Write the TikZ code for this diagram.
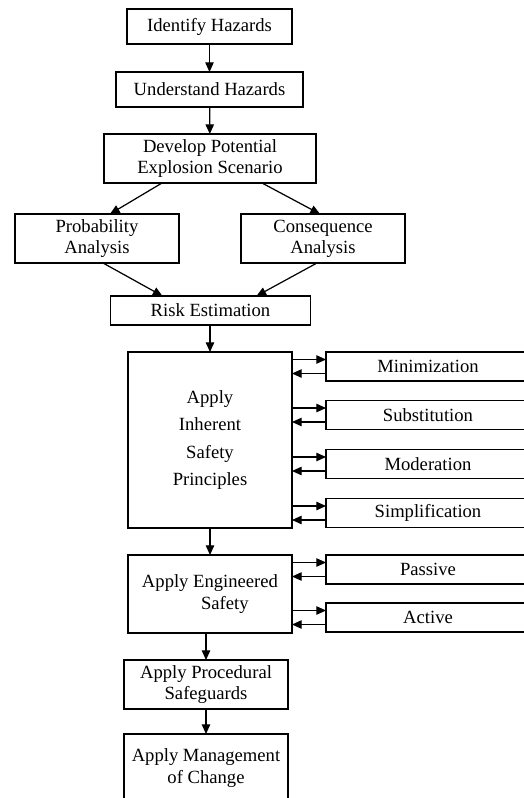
\documentclass[tikz,border=0pt]{standalone}
\usepackage{fontspec}
\setmainfont{Liberation Serif}
\usetikzlibrary{arrows.meta,calc}

\begin{document}
\begin{tikzpicture}[x=0.02cm, y=-0.02cm,
    box/.style={draw, line width=0.7pt, inner sep=0pt, outer sep=0pt, align=center,
                font=\fontsize{10.6}{12}\selectfont},
    sidebox/.style={box, minimum width=4.08cm, minimum height=0.58cm},
    arr/.style={line width=0.7pt, -{Triangle[length=5.5pt,width=4.8pt]}}]
    \useasboundingbox (0,0) rectangle (524,798);

    % Main column
    \node[box, minimum width=3.3cm, minimum height=0.7cm] (ident) at (209.5,26.5) {Identify Hazards};
    \node[box, minimum width=3.74cm, minimum height=0.7cm] (under) at (209.5,89.5) {Understand Hazards};
    \node[box, minimum width=4.24cm, minimum height=0.98cm] (devel) at (210,158.5) {Develop Potential\\Explosion Scenario};

    % Analysis pair
    \node[box, minimum width=3.28cm, minimum height=0.98cm] (prob) at (97,238.5) {Probability\\Analysis};
    \node[box, minimum width=3.28cm, minimum height=0.98cm] (cons) at (323,238.5) {Consequence\\Analysis};

    \node[box, minimum width=4cm, minimum height=0.58cm] (risk) at (210.5,310.5) {Risk Estimation};

    % Inherent safety and its principles
    \node[box, minimum width=3.28cm, minimum height=3.52cm,
          font=\fontsize{10.6}{15.4}\selectfont] (inh) at (210,440) {Apply\\Inherent\\Safety\\Principles};
    \node[sidebox] (mini) at (428,366.5) {Minimization};
    \node[sidebox] (subs) at (428,415) {Substitution};
    \node[sidebox] (mode) at (428,464) {Moderation};
    \node[sidebox] (simp) at (428,513) {Simplification};

    % Engineered safety
    \node[box, minimum width=3.28cm, minimum height=1.56cm] (eng) at (210,594) {Apply Engineered\\\hspace*{1.6em}Safety};
    \node[sidebox] (pass) at (428,569.5) {Passive};
    \node[sidebox] (act) at (428,617.5) {Active};

    \node[box, minimum width=3.28cm, minimum height=0.98cm] (proc) at (206,684.5) {Apply Procedural\\Safeguards};
    \node[box, minimum width=3.28cm, minimum height=1.36cm] (mgmt) at (206,768) {Apply Management\\of Change};

    % Vertical flow
    \draw[arr] (ident) -- (under);
    \draw[arr] (under) -- (devel);
    \draw[arr] ([xshift=-0.96cm]devel.south) -- ([xshift=0.26cm]prob.north);
    \draw[arr] ([xshift=1.04cm]devel.south) -- ([xshift=-0.06cm]cons.north);
    \draw[arr] ([xshift=0.12cm]prob.south) -- ([xshift=-0.96cm]risk.north);
    \draw[arr] ([xshift=-0.12cm]cons.south) -- ([xshift=0.92cm]risk.north);
    \draw[arr] (risk.south -| inh.north) -- (inh.north);
    \draw[arr] (inh.south) -- (eng.north);
    \draw[arr] (eng.south -| proc.north) -- (proc.north);
    \draw[arr] (proc) -- (mgmt);

    % Two-way links to the side boxes
    \foreach \s/\m in {mini/inh, subs/inh, mode/inh, simp/inh, pass/eng, act/eng} {
        \draw[arr] ($(\m.east |- \s.west)+(0,-7)$) -- ($(\s.west)+(0,-7)$);
        \draw[arr] ($(\s.west)+(0,7)$) -- ($(\m.east |- \s.west)+(0,7)$);
    }
\end{tikzpicture}
\end{document}
